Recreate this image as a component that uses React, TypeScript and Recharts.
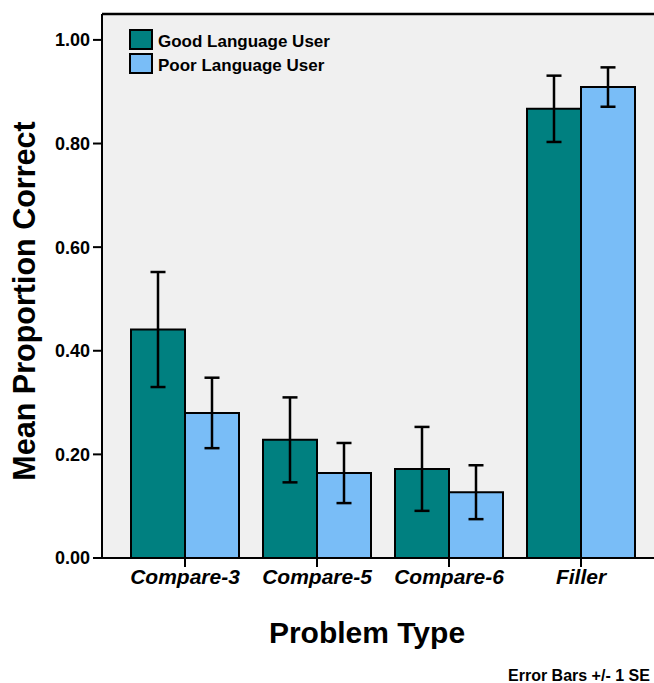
import React from "react";
import { BarChart, Bar, XAxis, YAxis, CartesianGrid, ErrorBar, Legend, Label } from "recharts";

const categories = ["Compare-3", "Compare-5", "Compare-6", "Filler"];
const goodMeans = [0.441, 0.228, 0.172, 0.867];
const goodSE = [0.111, 0.082, 0.081, 0.064];
const poorMeans = [0.280, 0.164, 0.127, 0.909];
const poorSE = [0.068, 0.058, 0.052, 0.038];
const yTicks = [0, 0.2, 0.4, 0.6, 0.8, 1.0];
const seriesNames = ["Good Language User", "Poor Language User"];

const TEAL = "#008080";
const BLUE = "#79bdf7";

const data = categories.map((c, i) => ({
  name: c,
  good: goodMeans[i],
  goodSe: goodSE[i],
  poor: poorMeans[i],
  poorSe: poorSE[i],
}));

const renderLegend = () => (
  <div style={{ position: "relative", width: 260, height: 50, fontFamily: "'Liberation Sans', Arial, sans-serif" }}>
    {[TEAL, BLUE].map((col, i) => (
      <div key={i} style={{ position: "absolute", left: 0, top: i * 24 + 1, display: "flex", alignItems: "center", height: 21 }}>
        <div style={{ width: 24, height: 21, boxSizing: "border-box", border: "2px solid #000", background: col }} />
        <span style={{ marginLeft: 5, fontSize: 17, fontWeight: "bold", color: "#000", lineHeight: "21px", position: "relative", top: 2 }}>
          {seriesNames[i]}
        </span>
      </div>
    ))}
  </div>
);

export default function App() {
  return (
    <div style={{ position: "absolute", left: 0, top: 0, width: 654, height: 683, overflow: "hidden", background: "#fff", fontFamily: "'Liberation Sans', Arial, sans-serif" }}>
      <BarChart width={680} height={683} data={data} margin={{ top: 13, right: 16, bottom: 0, left: 0 }} barGap={0} barSize={54}>
        <CartesianGrid fill="#f0f0f0" horizontal={false} vertical={false} stroke="none" />
        <XAxis xAxisId="top" orientation="top" dataKey="name" height={1} tick={false} tickLine={false} axisLine={{ stroke: "#000", strokeWidth: 2.5 }} padding={{ left: 17, right: 17 }} />
        <XAxis
          dataKey="name"
          height={125}
          padding={{ left: 17, right: 17 }}
          axisLine={{ stroke: "#000", strokeWidth: 2 }}
          tickLine={{ stroke: "#000", strokeWidth: 2 }}
          tickSize={9}
          tickMargin={2}
          tick={{ fontSize: 21, fontWeight: "bold", fontStyle: "italic", fill: "#000" }}
          interval={0}
        >
          <Label
            content={() => (
              <g>
                <text x={367} y={643} textAnchor="middle" fontSize={30} fontWeight="bold" fill="#000">Problem Type</text>
                <text x={508} y={681} textAnchor="start" fontSize={16} fontWeight="bold" fill="#000">Error Bars +/- 1 SE</text>
              </g>
            )}
          />
        </XAxis>
        <YAxis
          width={102}
          domain={[0, 1.05]}
          ticks={yTicks}
          tickFormatter={(v: number) => v.toFixed(2)}
          axisLine={{ stroke: "#000", strokeWidth: 2 }}
          tickLine={{ stroke: "#000", strokeWidth: 2 }}
          tickSize={9}
          tickMargin={3}
          tick={{ fontSize: 18, fontWeight: "bold", fill: "#000" }}
          interval={0}
        >
          <Label
            content={() => (
              <text x={35} y={301} transform="rotate(-90, 35, 301)" textAnchor="middle" fontSize={30.5} fontWeight="bold" fill="#000">
                Mean Proportion Correct
              </text>
            )}
          />
        </YAxis>
        <Legend
          layout="horizontal"
          align="center"
          verticalAlign="middle"
          wrapperStyle={{ top: 28, left: 129, width: 260, height: 50 }}
          content={renderLegend}
        />
        <Bar dataKey="good" name={seriesNames[0]} fill={TEAL} stroke="#000" strokeWidth={2} isAnimationActive={false}>
          <ErrorBar dataKey="goodSe" width={7.5} stroke="#000" strokeWidth={2.5} direction="y" isAnimationActive={false} />
        </Bar>
        <Bar dataKey="poor" name={seriesNames[1]} fill={BLUE} stroke="#000" strokeWidth={2} isAnimationActive={false}>
          <ErrorBar dataKey="poorSe" width={7.5} stroke="#000" strokeWidth={2.5} direction="y" isAnimationActive={false} />
        </Bar>
      </BarChart>
    </div>
  );
}
